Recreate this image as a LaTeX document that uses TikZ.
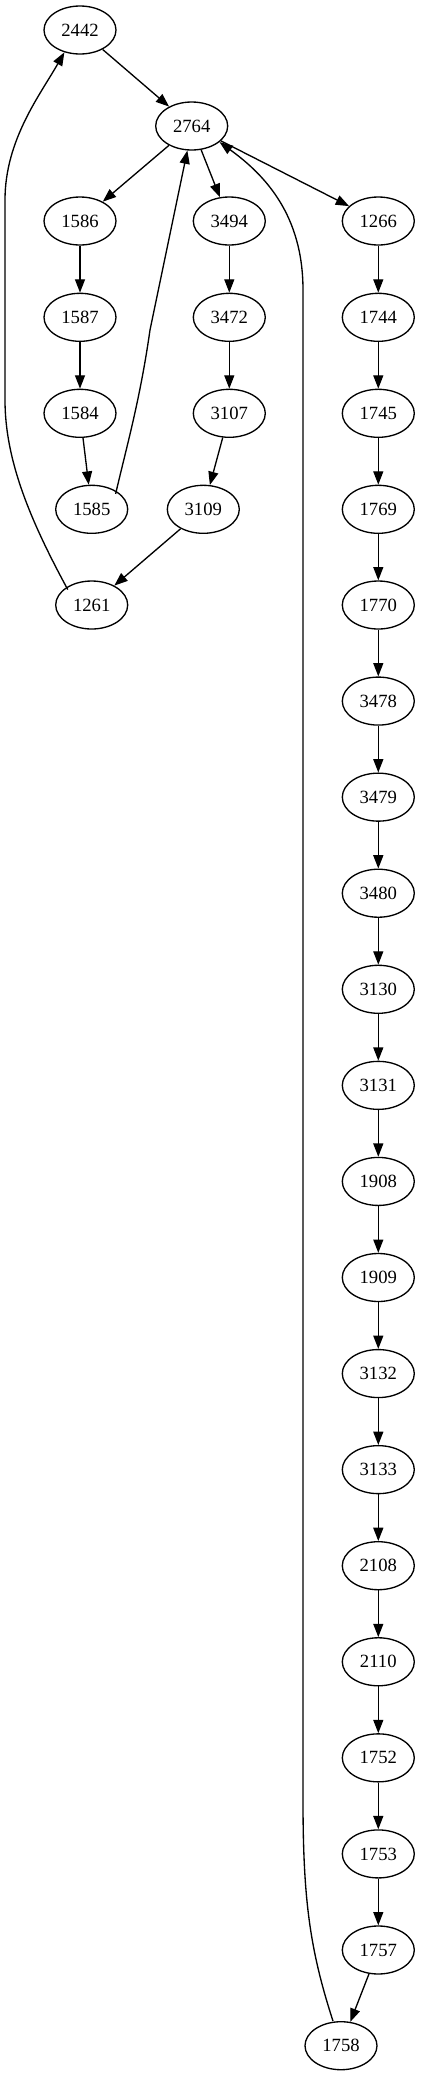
\documentclass[tikz,border=0pt]{standalone}
\usepackage{fontspec}
\setmainfont{Liberation Serif}
\usetikzlibrary{shapes.geometric,arrows.meta}
\begin{document}
\begin{tikzpicture}[x=0.75pt,y=-0.75pt,
  nd/.style={draw,ellipse,minimum width=54pt,minimum height=36pt,inner sep=0pt,line width=1pt,font=\fontsize{14pt}{16pt}\selectfont},
  ed/.style={-{Triangle[length=10pt,width=7.5pt]},line width=1pt}]
\useasboundingbox (0,0) rectangle (421,2075);
\node[nd] (n2442) at (80,30) {2442};
\node[nd] (n2764) at (191.7,126) {2764};
\node[nd] (n1586) at (80,221) {1586};
\node[nd] (n3494) at (229.3,221) {3494};
\node[nd] (n1266) at (378.3,221) {1266};
\node[nd] (n1587) at (80,317.3) {1587};
\node[nd] (n3472) at (229.3,317.3) {3472};
\node[nd] (n1744) at (378.3,317.3) {1744};
\node[nd] (n1584) at (80,413.3) {1584};
\node[nd] (n3107) at (229.3,413.3) {3107};
\node[nd] (n1745) at (378.3,413.3) {1745};
\node[nd] (n1585) at (91.7,509.3) {1585};
\node[nd] (n3109) at (203.3,509.3) {3109};
\node[nd] (n1769) at (378.3,509.3) {1769};
\node[nd] (n1261) at (91.7,605) {1261};
\foreach \lab [count=\i from 0] in {1770,3478,3479,3480,3130,3131,1908,1909,3132,3133,2108,2110,1752,1753,1757}
  \node[nd] (n\lab) at (378.3,605+96.07*\i) {\lab};
\node[nd] (n1758) at (341,2045.7) {1758};

\draw[ed] (n2442) -- (n2764);
\draw[ed] (n2764) -- (n1586);
\draw[ed] (n2764) -- (n3494);
\draw[ed] (n2764) -- (n1266);
\draw[ed] (n1586) -- (n1587);
\draw[ed] (n1587) -- (n1584);
\draw[ed] (n1584) -- (n1585);
\draw[ed] (n3494) -- (n3472);
\draw[ed] (n3472) -- (n3107);
\draw[ed] (n3107) -- (n3109);
\draw[ed] (n3109) -- (n1261);
\foreach \a/\b in {1266/1744,1744/1745,1745/1769,1769/1770,1770/3478,3478/3479,3479/3480,3480/3130,3130/3131,3131/1908,1908/1909,1909/3132,3132/3133,3133/2108,2108/2110,2110/1752,1752/1753,1753/1757,1757/1758}
  \draw[ed] (n\a) -- (n\b);

\draw[ed] (n1585.north east) ++(-2,2) .. controls (127,445) and (140,400) .. (150,330) -- (n2764.-100);
\draw[ed] (n1261.north west) ++(2,2) .. controls (30,520) and (5,460) .. (5,400) -- (5,200) .. controls (5,140) and (40,95) .. (n2442.-125);
\draw[ed] (n1758.north) ++(-8,0) .. controls (310,1950) and (303,1900) .. (303,1800) -- (303,290) .. controls (303,215) and (265,175) .. (n2764.-30);
\end{tikzpicture}
\end{document}
